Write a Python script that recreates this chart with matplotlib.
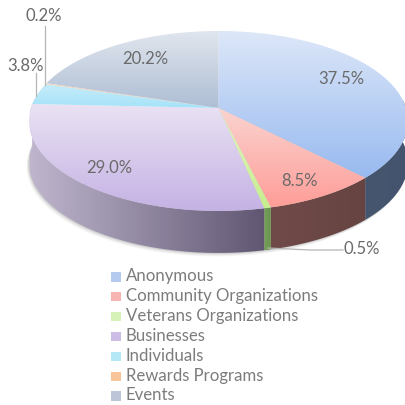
#!/usr/bin/env python3
"""Perspective 3D style pie of donation sources, drawn with polygons and gradients."""

import matplotlib

matplotlib.use("Agg")

import matplotlib.pyplot as plt
import numpy as np
from matplotlib.colors import LinearSegmentedColormap
from matplotlib.patches import Polygon, Rectangle

categories = [
    "Anonymous",
    "Community Organizations",
    "Veterans Organizations",
    "Businesses",
    "Individuals",
    "Rewards Programs",
    "Events",
]
percents = [37.5, 8.5, 0.5, 29.0, 3.8, 0.2, 20.2]

# gradient ends for the top face (light, dark) and the side wall (left, right)
TOP_COLORS = [
    ("#DDE7F8", "#98BAF0"),
    ("#FAD4D0", "#FF9D98"),
    ("#E6F5C4", "#C6EE8E"),
    ("#EAE2F3", "#C4B2E4"),
    ("#C6ECF9", "#A6E3F8"),
    ("#F6D6BA", "#F3C49C"),
    ("#E1E6EE", "#AEBED4"),
]
SIDE_COLORS = [
    ("#46566F", "#44546E"),
    ("#704A48", "#664442"),
    ("#76A05A", "#6A9350"),
    ("#BFB6CE", "#5F5571"),
    ("#BFB6CE", "#BFB6CE"),
    ("#BFB6CE", "#BFB6CE"),
    ("#BFB6CE", "#BFB6CE"),
]
LEGEND_COLORS = ["#B4CBEF", "#F6B4B2", "#D6F2B8", "#CDBDE6", "#B4E8F6", "#F8C49A", "#BCC6D8"]

# label centres in pixels
LABEL_POS = [(341, 79), (300, 181), (362, 249), (109, 168), (26, 66), (44, 16), (145, 59)]
LEADERS = [
    [(343, 250), (310, 250), (268, 248)],
    [(36, 73), (36, 96)],
    [(45, 26), (45, 85)],
]

CX, CY = 218.5, 108
A, B, K = 187.5, 88.1, 0.144
DEPTH = 42
TEXT_GREY = "#6A6A6A"


def project(theta):
    """Disc angle (degrees clockwise from 12 o'clock) to pixel position."""
    t = np.radians(theta)
    u, v = np.sin(t), np.cos(t)
    w = 1 + K * v
    return CX + A * u / w, CY - B * v / w


def gradient_fill(ax, xy, start, end, horizontal=False, span=None, zorder=2):
    xy = np.asarray(xy)
    cmap = LinearSegmentedColormap.from_list("g", [start, end])
    ramp = np.linspace(0, 1, 256)
    x0, x1 = xy[:, 0].min(), xy[:, 0].max()
    y0, y1 = xy[:, 1].min(), xy[:, 1].max()
    if horizontal:
        if span:
            x0, x1 = span
        img = ramp.reshape(1, -1)
    else:
        img = ramp.reshape(-1, 1)
    im = ax.imshow(img, cmap=cmap, extent=(x0, x1, y1, y0), aspect="auto",
                   origin="upper", zorder=zorder, interpolation="bilinear")
    clip = Polygon(xy, closed=True, transform=ax.transData, facecolor="none", edgecolor="none")
    ax.add_patch(clip)
    im.set_clip_path(clip)


fig = plt.figure(figsize=(4.06, 4.05), dpi=100)
ax = fig.add_axes([0, 0, 1, 1])
plt.rcParams["font.family"] = ["Lato", "DejaVu Sans"]

edges = np.concatenate([[0], np.cumsum(percents)]) / sum(percents) * 360

# soft shadow under the wall
arc = np.linspace(80, 290, 200)
sx, sy = project(arc)
for grow, alpha in [(3.5, 0.05), (2.5, 0.07), (1.5, 0.09), (0.7, 0.12)]:
    pts = np.column_stack([sx - grow * 0.7, sy + DEPTH + grow])
    ax.add_patch(Polygon(np.vstack([pts, [[CX, CY]]]), closed=True, facecolor="#555555",
                         edgecolor="none", alpha=alpha, zorder=1))

# side wall, only the front half of the disc is visible
for i in range(len(percents)):
    lo, hi = max(edges[i], 85), min(edges[i + 1], 277)
    if hi <= lo:
        continue
    th = np.linspace(lo, hi, 80)
    x, y = project(th)
    wall = np.vstack([np.column_stack([x, y]), np.column_stack([x, y + DEPTH])[::-1]])
    span = (30, 268) if categories[i] == "Businesses" else None
    gradient_fill(ax, wall, SIDE_COLORS[i][0], SIDE_COLORS[i][1], horizontal=True, span=span, zorder=2)

# top face
for i in range(len(percents)):
    th = np.linspace(edges[i], edges[i + 1], max(int(percents[i] * 4), 6))
    x, y = project(th)
    face = np.vstack([[[CX, CY]], np.column_stack([x, y])])
    gradient_fill(ax, face, TOP_COLORS[i][0], TOP_COLORS[i][1], zorder=3)

# data labels
for pct, (lx, ly) in zip(percents, LABEL_POS):
    ax.text(lx, ly, f"{pct:.1f}%", ha="center", va="center", fontsize=12,
            color=TEXT_GREY, zorder=5)
for line in LEADERS:
    xs, ys = zip(*line)
    ax.plot(xs, ys, color="#B5B5B5", lw=0.9, zorder=4)

# legend
for i, name in enumerate(categories):
    y = 276.5 + i * 19.9
    ax.add_patch(Rectangle((111, y - 4.5), 10, 9.5, facecolor=LEGEND_COLORS[i], edgecolor="none", zorder=4))
    ax.text(126, y - 0.5, name, ha="left", va="center", fontsize=12.1, color="#7C7C7C", zorder=5)

ax.set_xlim(0, 406)
ax.set_ylim(405, 0)
ax.axis("off")
fig.savefig("out.png", dpi=100, facecolor="white")
plt.close(fig)
